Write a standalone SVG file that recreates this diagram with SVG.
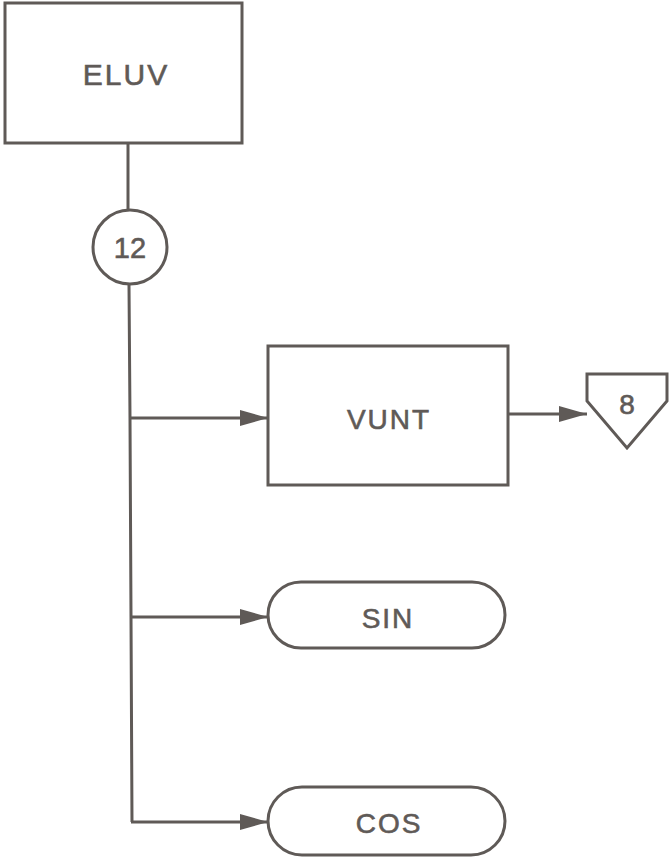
<svg xmlns="http://www.w3.org/2000/svg" width="670" height="859" viewBox="0 0 670 859">
<style>
.s{fill:none;stroke:#5f5a57;stroke-width:3}
.n{fill:#fff;stroke:#5f5a57;stroke-width:3}
.t{font-family:"Liberation Sans",Arial,sans-serif;font-size:28px;fill:#5f5a57;stroke:#5f5a57;stroke-width:0.6;text-anchor:middle;letter-spacing:2px}
</style>
<defs>
<marker id="a" markerUnits="userSpaceOnUse" markerWidth="30" markerHeight="20" refX="28" refY="9" orient="auto">
<path d="M0,1 L28,9 L0,17 Z" fill="#5f5a57"/>
</marker>
</defs>
<rect width="670" height="859" fill="#fff"/>
<g id="connectors">
<line class="s" x1="128" y1="143" x2="128" y2="210"/>
<polyline class="s" points="129,285 130,418 131,617 132,822"/>
<line class="s" x1="129" y1="418" x2="268" y2="418" marker-end="url(#a)"/>
<line class="s" x1="130" y1="617" x2="268" y2="617" marker-end="url(#a)"/>
<line class="s" x1="131" y1="822" x2="268" y2="822" marker-end="url(#a)"/>
<line class="s" x1="508" y1="414" x2="587" y2="414" marker-end="url(#a)"/>
</g>
<g id="ELUV">
<rect class="n" x="5" y="3" width="237" height="140"/>
<text class="t" x="126" y="85" style="font-size:30px">ELUV</text>
</g>
<g id="c12">
<circle class="n" cx="130" cy="247" r="37"/>
<text class="t" x="130" y="258" style="font-size:29px;letter-spacing:0">12</text>
</g>
<g id="VUNT">
<rect class="n" x="268" y="346" width="240" height="139"/>
<text class="t" x="389" y="429">VUNT</text>
</g>
<g id="p8">
<polygon class="n" points="587,374 667,374 667,401 627,448 587,401"/>
<text class="t" x="627" y="414" style="letter-spacing:0">8</text>
</g>
<g id="SIN">
<rect class="n" x="268" y="582" width="237" height="66" rx="33"/>
<text class="t" x="388" y="628">SIN</text>
</g>
<g id="COS">
<rect class="n" x="268" y="787" width="237" height="68" rx="34"/>
<text class="t" x="389" y="833">COS</text>
</g>
</svg>
